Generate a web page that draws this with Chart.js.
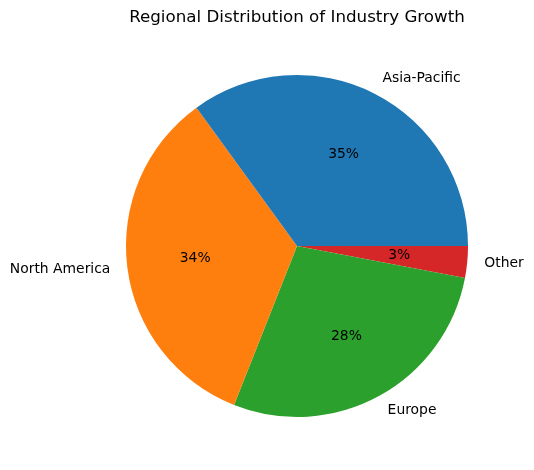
<!DOCTYPE html>
<html>
<head>
<meta charset="utf-8">
<script src="https://cdn.jsdelivr.net/npm/chart.js@4/dist/chart.umd.min.js"></script>
<style>
    html, body { margin: 0; padding: 0; background: #fff; }
    #wrap { width: 534px; height: 470px; }
</style>
</head>
<body>
<div id="wrap"><canvas id="pieChart"></canvas></div>
<script>
// data (matplotlib order, counter-clockwise from 3 o'clock)
const regions = ['Asia-Pacific', 'North America', 'Europe', 'Other'];
const growthShare = [35, 34, 28, 3];
const sliceColors = ['#1f77b4', '#ff7f0e', '#2ca02c', '#d62728'];
const chartTitle = 'Regional Distribution of Industry Growth';

// Chart.js goes clockwise, so reverse to get the same layout
const labelsCw = regions.slice().reverse();
const valuesCw = growthShare.slice().reverse();
const colorsCw = sliceColors.slice().reverse();

const FONT = '"DejaVu Sans", sans-serif';

// draws the outer labels, percentages and title like matplotlib does
const pieLabels = {
    id: 'pieLabels',
    afterDraw(chart) {
        const ctx = chart.ctx;
        const meta = chart.getDatasetMeta(0);
        const total = valuesCw.reduce((a, b) => a + b, 0);
        ctx.save();
        ctx.fillStyle = '#000';
        meta.data.forEach((arc, i) => {
            const p = arc.getProps(['x', 'y', 'startAngle', 'endAngle', 'outerRadius'], true);
            const mid = (p.startAngle + p.endAngle) / 2;
            const cos = Math.cos(mid), sin = Math.sin(mid);

            // label at 1.1 radius
            ctx.font = '13.9px ' + FONT;
            ctx.textBaseline = 'middle';
            ctx.textAlign = cos >= 0 ? 'left' : 'right';
            ctx.fillText(labelsCw[i], p.x + cos * p.outerRadius * 1.1, p.y + sin * p.outerRadius * 1.1);

            // percentage at 0.6 radius
            ctx.textAlign = 'center';
            const pct = Math.round(valuesCw[i] / total * 100) + '%';
            ctx.fillText(pct, p.x + cos * p.outerRadius * 0.6, p.y + sin * p.outerRadius * 0.6);
        });

        ctx.font = '16.7px ' + FONT;
        ctx.textAlign = 'center';
        ctx.textBaseline = 'middle';
        ctx.fillText(chartTitle, meta.data[0].x, 18);
        ctx.restore();
    }
};

const ctx = document.getElementById('pieChart').getContext('2d');
new Chart(ctx, {
    type: 'pie',
    data: {
        labels: labelsCw,
        datasets: [{
            data: valuesCw,
            backgroundColor: colorsCw,
            borderWidth: 0
        }]
    },
    options: {
        responsive: true,
        maintainAspectRatio: false,
        animation: false,
        rotation: 90,
        layout: {
            padding: { left: 126, right: 66, top: 75, bottom: 53 }
        },
        plugins: {
            legend: { display: false },
            tooltip: { enabled: false },
            title: { display: false }
        }
    },
    plugins: [pieLabels]
});
</script>
</body>
</html>
